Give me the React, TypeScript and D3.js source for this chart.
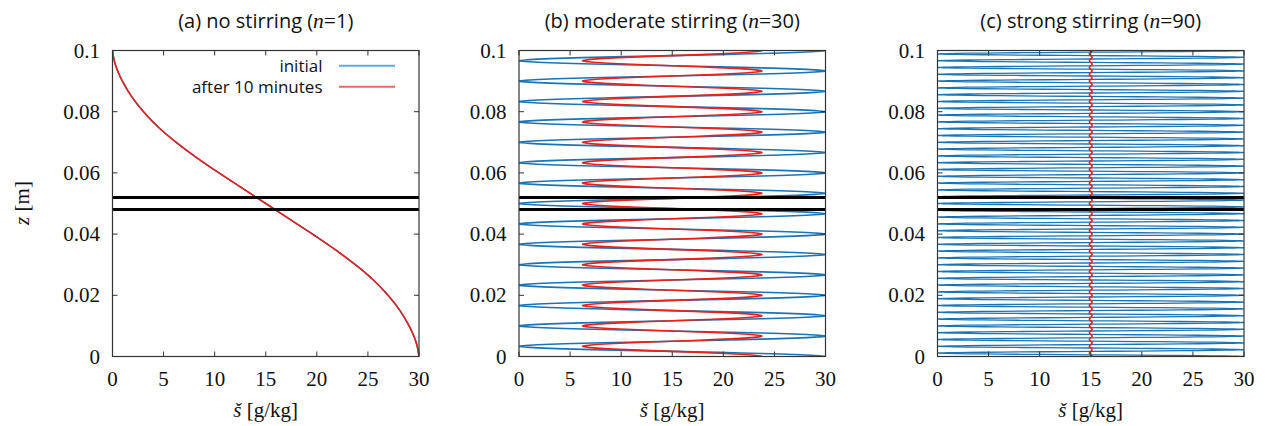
import React from "react";
import * as d3 from "d3";

// Profile: salinity s [g/kg] at height z [m]
const profileZ = [0, 0.0025, 0.005, 0.0075, 0.01, 0.015, 0.02, 0.025, 0.03, 0.035, 0.04, 0.045, 0.05, 0.055, 0.06, 0.065, 0.07, 0.075, 0.08, 0.085, 0.09, 0.0925, 0.095, 0.0975, 0.1];
const profileS = [30, 29.9, 29.7, 29.4, 29.05, 28.2, 27.0, 25.6, 23.8, 21.8, 19.6, 17.3, 15.0, 12.7, 10.4, 8.2, 6.2, 4.4, 3.0, 1.8, 0.95, 0.6, 0.3, 0.1, 0];

// panels
const panelTitles = ["(a) no stirring (", "(b) moderate stirring (", "(c) strong stirring ("];
const panelN = [1, 30, 90];
// fraction of the initial anomaly (about the mean) left after 10 minutes
const retained = [1, 0.587, 0.009];
const meanS = 15;
const interfaceZ = [0.048, 0.052];

const xTicks = [0, 5, 10, 15, 20, 25, 30];
const yTicks = [0, 0.02, 0.04, 0.06, 0.08, 0.1];
const yTickLabels = ["0", "0.02", "0.04", "0.06", "0.08", "0.1"];
const legendLabels = ["initial", "after 10 minutes"];

const W = 1265, H = 426;
const panelLeft = [112.5, 519, 937.5];
const panelW = 306.5;
const top = 50.5, bottom = 356.5;

const BLUE = "#1b74b6";
const RED = "#e8211c";
const LEG_BLUE = "#5aaee0";
const LEG_RED = "#ee6a5c";

type P = { s: number; z: number };

function folded(n: number): P[] {
  const h = 0.1 / n;
  const pts: P[] = [];
  for (let k = 0; k < n; k++) {
    const idx = profileZ.map((_, i) => i);
    if (k % 2 === 1) idx.reverse();
    idx.forEach((i, j) => {
      if (k > 0 && j === 0) return;
      const t = k % 2 === 0 ? profileZ[i] / 0.1 : 1 - profileZ[i] / 0.1;
      pts.push({ z: k * h + t * h, s: profileS[i] });
    });
  }
  return pts;
}

const serif = "Liberation Serif";
const sans = "Open Sans";

function Panel({ p }: { p: number }) {
  const x0 = panelLeft[p];
  const x = d3.scaleLinear().domain([0, 30]).range([x0, x0 + panelW]);
  const y = d3.scaleLinear().domain([0, 0.1]).range([bottom, top]);
  const init = folded(panelN[p]);
  const after = init.map((d) => ({ z: d.z, s: meanS + (d.s - meanS) * retained[p] }));
  const line = d3
    .line<P>()
    .x((d) => x(d.s))
    .y((d) => y(d.z))
    .curve(d3.curveBasis);
  const clipId = `clip${p}`;
  const frame = "#333";
  return (
    <g>
      <defs>
        <clipPath id={clipId}>
          <rect x={x0} y={top} width={panelW} height={bottom - top} />
        </clipPath>
      </defs>
      <g clipPath={`url(#${clipId})`}>
        <path d={line(init) || ""} fill="none" stroke={BLUE} strokeWidth={p === 2 ? 1.3 : 1.6} />
        <path d={line(after) || ""} fill="none" stroke={RED} strokeWidth={1.6} />
      </g>
      {interfaceZ.map((z) => (
        <line key={z} x1={x0} x2={x0 + panelW} y1={y(z)} y2={y(z)} stroke="#000" strokeWidth={3} />
      ))}
      {xTicks.map((t) => (
        <g key={"x" + t}>
          <line x1={x(t)} x2={x(t)} y1={bottom} y2={bottom - 5} stroke={frame} strokeWidth={1} />
          <line x1={x(t)} x2={x(t)} y1={top} y2={top + 5} stroke={frame} strokeWidth={1} />
          <text x={x(t)} y={386} textAnchor="middle" fontFamily={serif} fontSize={21} fill="#111">
            {t}
          </text>
        </g>
      ))}
      {yTicks.map((t, i) => (
        <g key={"y" + t}>
          <line x1={x0} x2={x0 + 5} y1={y(t)} y2={y(t)} stroke={frame} strokeWidth={1} />
          <line x1={x0 + panelW} x2={x0 + panelW - 5} y1={y(t)} y2={y(t)} stroke={frame} strokeWidth={1} />
          <text x={x0 - 12.5} y={y(t) + 7} textAnchor="end" fontFamily={serif} fontSize={21} fill="#111">
            {yTickLabels[i]}
          </text>
        </g>
      ))}
      <rect x={x0} y={top} width={panelW} height={bottom - top} fill="none" stroke={frame} strokeWidth={1.2} />
      <text x={x0 + panelW / 2} y={28} textAnchor="middle" fontFamily={sans} fontSize={20} fill="#111">
        {panelTitles[p]}
        <tspan fontFamily={serif} fontStyle="italic" fontSize={21.5}>n</tspan>
        <tspan fontFamily={serif} fontSize={21.5}>=</tspan>
        {panelN[p]})
      </text>
      <text x={x0 + panelW / 2} y={417} textAnchor="middle" fontFamily={serif} fontSize={21} fill="#111">
        <tspan fontStyle="italic">š</tspan> [g/kg]
      </text>
    </g>
  );
}

export default function App() {
  return (
    <svg width={W} height={H} style={{ position: "absolute", left: 0, top: 0, background: "#fff" }}>
      <rect width={W} height={H} fill="#fff" />
      {[0, 1, 2].map((p) => (
        <Panel key={p} p={p} />
      ))}
      {legendLabels.map((l, i) => (
        <g key={l}>
          <text x={322.5} y={72 + i * 21} textAnchor="end" fontFamily={sans} fontSize={17} fill="#111">
            {l}
          </text>
          <line x1={339} x2={395} y1={65.7 + i * 21} y2={65.7 + i * 21} stroke={i === 0 ? LEG_BLUE : LEG_RED} strokeWidth={2} />
        </g>
      ))}
      <text transform="translate(29,203) rotate(-90)" textAnchor="middle" fontFamily={serif} fontSize={21} fill="#111">
        <tspan fontStyle="italic">z</tspan> [m]
      </text>
    </svg>
  );
}
